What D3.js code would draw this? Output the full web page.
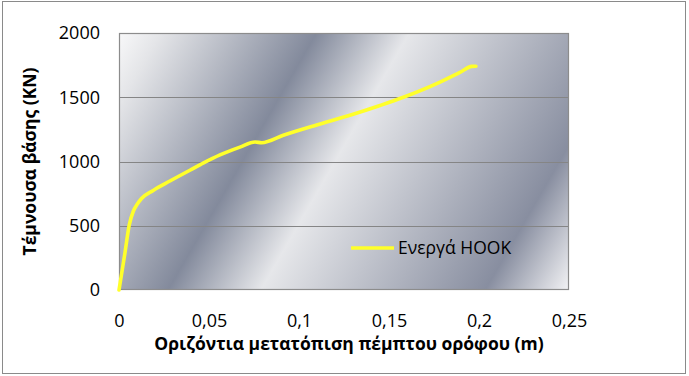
<!DOCTYPE html>
<html>
<head>
<meta charset="utf-8">
<script src="https://cdn.jsdelivr.net/npm/d3@7"></script>
<style>
  html, body { margin: 0; padding: 0; background: #fff; }
  svg { display: block; }
  text { font-family: "Open Sans", "DejaVu Sans", sans-serif; fill: #000; }
</style>
</head>
<body>
<svg id="chart" width="689" height="376"></svg>
<script>
// ---- data ----
const seriesName = "Ενεργά HOOK";
const displacement = [0, 0.0033, 0.0057, 0.0080, 0.0100, 0.0125, 0.0190, 0.0283, 0.0394, 0.0470, 0.0561, 0.0672, 0.0756, 0.0793, 0.0913, 0.1098, 0.1283, 0.1450, 0.1580, 0.1765, 0.1894, 0.1960, 0.1983];
const baseShear    = [0,   288,    506,    615,    665,    712,    775,    848,    932,    990,    1052,   1112,   1152,   1146,   1204,   1284,   1360,   1436,   1500,   1606,   1694,   1740,   1741];
const xTicks = [0, 0.05, 0.1, 0.15, 0.2, 0.25];
const yTicks = [0, 500, 1000, 1500, 2000];
const xTitle = "Οριζόντια μετατόπιση πέμπτου ορόφου (m)";
const yTitle = "Τέμνουσα βάσης (KN)";

const W = 689, H = 376;
const m = { left: 119, top: 33, right: 120, bottom: 86 };
const pw = W - m.left - m.right, ph = H - m.top - m.bottom;

const svg = d3.select("#chart");
const defs = svg.append("defs");

// outer chart border
svg.append("rect").attr("x", 2.5).attr("y", 1.5).attr("width", W - 6).attr("height", H - 4)
  .attr("fill", "#fff").attr("stroke", "#8a8a8a").attr("stroke-width", 1);

const g = svg.append("g").attr("transform", `translate(${m.left},${m.top})`);

const x = d3.scaleLinear().domain([0, 0.25]).range([0, pw]);
const y = d3.scaleLinear().domain([0, 2000]).range([ph, 0]);

// silver diagonal gradient (Excel preset)
const ang = Math.PI / 6;
const dx = Math.cos(ang), dy = Math.sin(ang);
const span = pw * dx + ph * dy;
const grad = defs.append("linearGradient").attr("id", "silver")
  .attr("gradientUnits", "userSpaceOnUse")
  .attr("x1", 0).attr("y1", 0).attr("x2", span * dx).attr("y2", span * dy);
[[0, "#f8f8f9"], [0.07, "#e4e5e8"], [0.33, "#838a9c"], [0.485, "#e6e7ea"], [0.86, "#888ea0"], [1, "#f3f3f5"]]
  .forEach(([o, c]) => grad.append("stop").attr("offset", o).attr("stop-color", c));

g.append("rect").attr("width", pw).attr("height", ph).attr("fill", "url(#silver)");

// gridlines
g.append("g").selectAll("line").data(yTicks.filter(t => t > 0 && t < 2000)).join("line")
  .attr("x1", 0).attr("x2", pw).attr("y1", d => Math.round(y(d)) + 0.5).attr("y2", d => Math.round(y(d)) + 0.5)
  .attr("stroke", "#858585").attr("stroke-width", 1);

g.append("rect").attr("x", 0.5).attr("y", 0.5).attr("width", pw - 1).attr("height", ph - 1)
  .attr("fill", "none").attr("stroke", "#8c8c8c").attr("stroke-width", 1.2);

// axes (labels only)
const fmt = d => String(d).replace(".", ",");
const yAxis = g.append("g").call(d3.axisLeft(y).tickValues(yTicks).tickSize(0).tickPadding(19).tickFormat(fmt));
const xAxis = g.append("g").attr("transform", `translate(0,${ph})`)
  .call(d3.axisBottom(x).tickValues(xTicks).tickSize(0).tickPadding(24).tickFormat(fmt));
[yAxis, xAxis].forEach(a => {
  a.select(".domain").remove();
  a.selectAll("text").attr("font-size", 18).attr("fill", "#222")
    .style("font-family", '"Open Sans", sans-serif');
});

// line
const pts = displacement.map((d, i) => [d, baseShear[i]]);
g.append("path").datum(pts)
  .attr("fill", "none").attr("stroke", "#ffff2a").attr("stroke-width", 3.6)
  .attr("stroke-linecap", "round").attr("stroke-linejoin", "round")
  .attr("d", d3.line().x(d => x(d[0])).y(d => y(d[1])).curve(d3.curveMonotoneX));

// legend
const lg = g.append("g").attr("transform", `translate(${x(0.1289)},${y(327)})`);
lg.append("line").attr("x1", 0).attr("x2", 43).attr("y1", 0).attr("y2", 0)
  .attr("stroke", "#ffff2a").attr("stroke-width", 3.6);
lg.append("text").attr("x", 47).attr("y", 0).attr("dy", "0.35em")
  .attr("font-size", 17.5).attr("fill", "#222").text(seriesName);

// axis titles
svg.append("text").attr("x", m.left + pw / 2 + 5).attr("y", 344).attr("dy", "0.35em")
  .attr("text-anchor", "middle").attr("font-weight", "bold").attr("font-size", 17.5).text(xTitle);
svg.append("text").attr("transform", `translate(30,${m.top + ph / 2}) rotate(-90)`)
  .attr("dy", "0.35em").attr("text-anchor", "middle").attr("font-weight", "bold").attr("font-size", 17.5).text(yTitle);
</script>
</body>
</html>
